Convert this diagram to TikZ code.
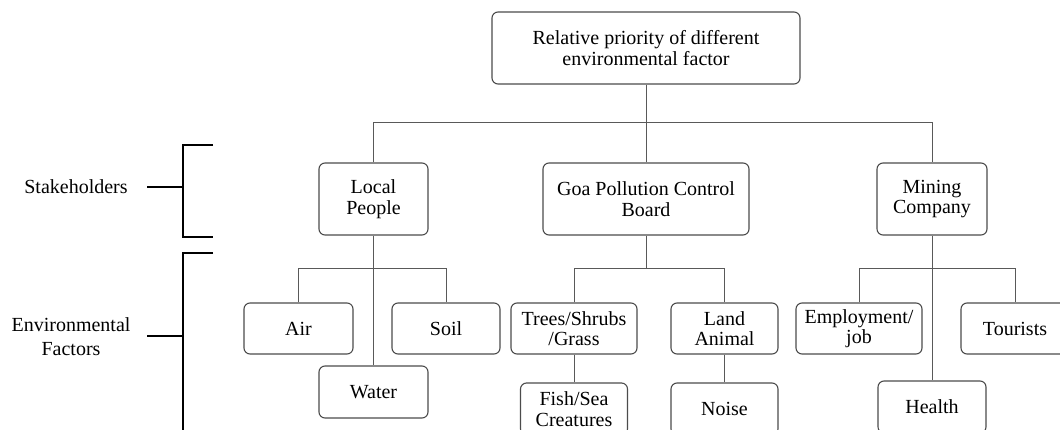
\documentclass[tikz,border=0pt]{standalone}
\usepackage{fontspec}
\setmainfont{Liberation Serif}
\begin{document}
\begin{tikzpicture}[x=1pt,y=-1pt,
  box/.style={draw=black!70, line width=1.1pt, rounded corners=6pt, align=center,
    inner sep=0pt, font=\fontsize{20}{20.5}\selectfont, text=black},
  conn/.style={draw=black!65, line width=1pt},
  brace/.style={draw=black, line width=1.8pt},
  lbl/.style={align=center, inner sep=0pt, font=\fontsize{20}{24}\selectfont}]
\useasboundingbox (0,0) rectangle (1060,430);
\fill[white] (0,0) rectangle (1060,430);
% level 0
\node[box, minimum width=308pt, minimum height=72pt] (top) at (646,48) {Relative priority of different\\environmental factor};
% level 1
\node[box, minimum width=109pt, minimum height=72pt] (lp) at (373.5,199) {Local\\People};
\node[box, minimum width=206pt, minimum height=72pt] (gpcb) at (646,199) {Goa Pollution Control\\Board};
\node[box, minimum width=110pt, minimum height=72pt] (mc) at (932,199) {Mining\\Company};
% level 2
\node[box, minimum width=109pt, minimum height=51pt] (air) at (298.5,328.5) {Air};
\node[box, minimum width=108pt, minimum height=51pt] (soil) at (446,328.5) {Soil};
\node[box, minimum width=109pt, minimum height=52pt] (water) at (373.5,392) {Water};
\node[box, minimum width=126pt, minimum height=51pt] (trees) at (574,328.5) {Trees/Shrubs\\/Grass};
\node[box, minimum width=107pt, minimum height=51pt] (land) at (724.5,328.5) {Land\\Animal};
\node[box, minimum width=107pt, minimum height=52pt] (fish) at (574,409) {Fish/Sea\\Creatures};
\node[box, minimum width=107pt, minimum height=52pt] (noise) at (724.5,409) {Noise};
\node[box, minimum width=126pt, minimum height=51pt] (emp) at (859,328.5) {Employment/\\job};
\node[box, minimum width=108pt, minimum height=51pt] (tour) at (1015,328.5) {Tourists};
\node[box, minimum width=108pt, minimum height=52pt] (health) at (932,407) {Health};
% bars
\coordinate (bar0) at (0,123);
\coordinate (bar1) at (0,269);
% connectors level 0-1
\draw[conn] (top.south) -- (top.south |- bar0);
\draw[conn] (lp.north) -- (lp.north |- bar0) -- (mc.north |- bar0) -- (mc.north);
\draw[conn] (gpcb.north) -- (gpcb.north |- bar0);
% local people
\draw[conn] (lp.south) -- (water.north);
\draw[conn] (air.north) -- (air.north |- bar1) -- (soil.north |- bar1) -- (soil.north);
% gpcb
\draw[conn] (gpcb.south) -- (gpcb.south |- bar1);
\draw[conn] (trees.north) -- (trees.north |- bar1) -- (land.north |- bar1) -- (land.north);
\draw[conn] (trees.south) -- (fish.north);
\draw[conn] (land.south) -- (noise.north);
% mining
\draw[conn] (mc.south) -- (health.north);
\draw[conn] (emp.north) -- (emp.north |- bar1) -- (tour.north |- bar1) -- (tour.north);
% brackets
\coordinate (b1t) at (213,145);
\coordinate (b1b) at (213,237);
\coordinate (b1m) at (183,187);
\coordinate (b2t) at (213,253);
\coordinate (b2b) at (183,440);
\coordinate (b2m) at (183,336);
\node[lbl] (stake) at (76,187) {Stakeholders};
\node[lbl] (env) at (71,337) {Environmental\\Factors};
\draw[brace] (b1t) -- (b1t -| b1m) -- (b1b -| b1m) -- (b1b);
\draw[brace] (147,187) -- (b1m);
\draw[brace] (b2t) -- (b2t -| b2m) -- (b2b);
\draw[brace] (147,336) -- (b2m);
\end{tikzpicture}
\end{document}
